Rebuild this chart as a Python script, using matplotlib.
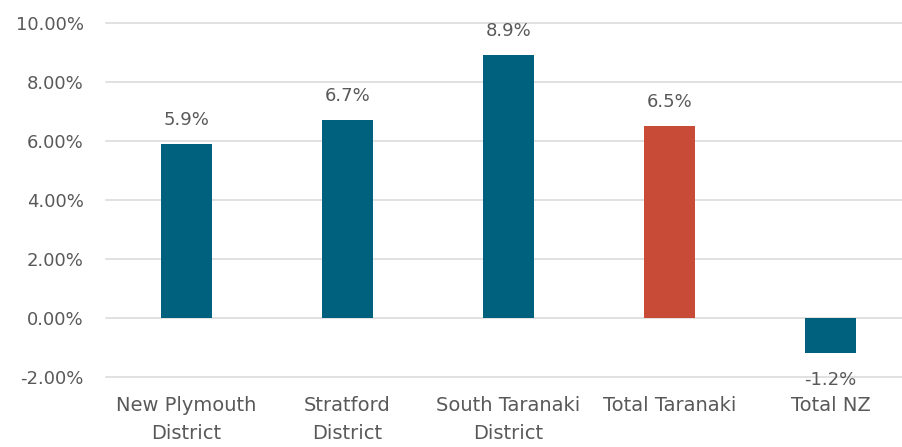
import numpy as np
import matplotlib
import matplotlib.pyplot as plt

# данные
categories = ["New Plymouth\nDistrict", "Stratford\nDistrict", "South Taranaki\nDistrict",
              "Total Taranaki", "Total NZ"]
values = [5.9, 6.7, 8.9, 6.5, -1.2]
bar_colors = ["#00617F", "#00617F", "#00617F", "#C84B37", "#00617F"]

text_color = "#595959"
matplotlib.rc("font", family="DejaVu Sans", size=13)

fig = plt.figure(figsize=(9.03, 4.47), dpi=100)
ax = fig.add_axes([106 / 903, 1 - 377 / 447, 805 / 903, (377 - 23) / 447])

x = np.arange(len(categories))
bars = ax.bar(x, values, width=0.317, color=bar_colors, zorder=3)

# подписи над столбцами
for xi, v in zip(x, values):
    if v >= 0:
        ax.annotate(f"{v:.1f}%", (xi, v), xytext=(0, 11), textcoords="offset points",
                    ha="center", va="bottom", color=text_color, fontsize=13)
    else:
        ax.annotate(f"{v:.1f}%", (xi, v), xytext=(0, -13), textcoords="offset points",
                    ha="center", va="top", color=text_color, fontsize=13)

ax.set_xlim(-0.5, len(categories) - 0.5)
ax.set_ylim(-2, 10)
ax.set_yticks(np.arange(-2, 10.1, 2))
ax.set_yticklabels([f"{t:.2f}%" for t in np.arange(-2, 10.1, 2)])
ax.set_xticks(x)
ax.set_xticklabels(categories, linespacing=1.55, fontsize=14)

ax.grid(axis="y", color="#D9D9D9", linewidth=1.1, zorder=0)
for gl in ax.get_ygridlines():
    gl.set_clip_on(False)
for s in ax.spines.values():
    s.set_visible(False)
ax.tick_params(axis="both", length=0, colors=text_color)
ax.tick_params(axis="y", pad=16, labelsize=13)
ax.tick_params(axis="x", pad=14)

fig.savefig("out.png", dpi=100)
